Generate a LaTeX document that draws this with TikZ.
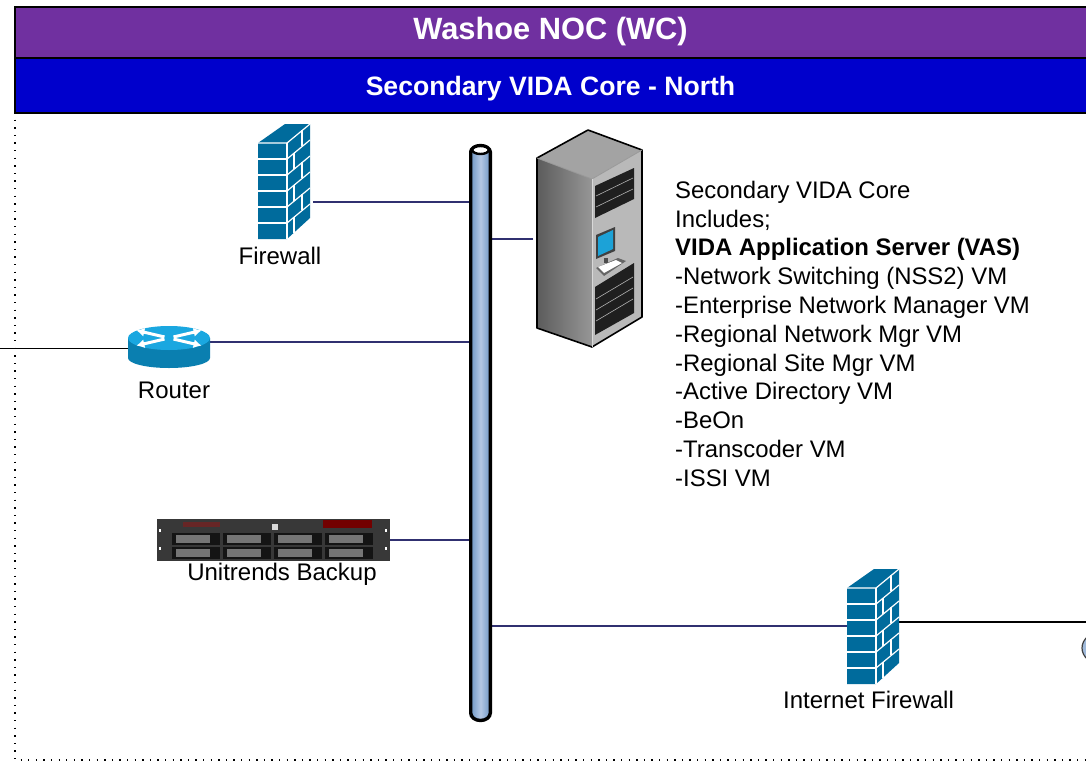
\documentclass[tikz,border=0pt]{standalone}
\usepackage{fontspec}
\usetikzlibrary{arrows.meta}
\setmainfont{Liberation Sans}
\definecolor{hdrpurple}{HTML}{7030A0}
\definecolor{hdrblue}{HTML}{0000CC}
\definecolor{linkblue}{HTML}{303070}
\definecolor{wallblue}{HTML}{006B9C}
\definecolor{routertop}{HTML}{1AA7E0}
\definecolor{routerside}{HTML}{0A7FB0}
\definecolor{barblue}{HTML}{B4C8E4}
\definecolor{bardark}{HTML}{6F96C4}
\tikzset{
  header/.style={draw=black,line width=2pt,minimum height=#1,inner sep=0pt,text=white,font=\bfseries},
  link/.style={draw=linkblue,line width=1.3pt},
  extlink/.style={draw=black,line width=1pt},
  label/.style={inner sep=0pt,font=\fontsize{24}{28}\selectfont},
  footprint/.style={inner sep=0pt,draw=none,fill=none},
  brick/.style={draw=white,line width=1.2pt},
  slotline/.style={draw=gray!60,line width=.6pt},
}
\newcommand{\brickwall}[2]{%
  \begin{scope}[shift={(#1,#2)}]
    \fill[wallblue] (0,19) -- (27,0) -- (52,0) -- (52,94) -- (29,115) -- (0,115) -- cycle;
    \draw[brick] (0,19) -- (29,19) -- (52,0);
    \draw[brick] (29,19) -- (29,115);
    \foreach \yy in {35,51,67,83,99}{\draw[brick] (0,\yy) -- (29,\yy);}
    \foreach \yy in {35,51,67,83,99}{\draw[brick] (29,\yy) -- (52,\yy-19);}
    \draw[brick] (44,6) -- (44,22);
    \draw[brick] (36,29) -- (36,45);
    \draw[brick] (44,38) -- (44,54);
    \draw[brick] (36,61) -- (36,77);
    \draw[brick] (44,70) -- (44,86);
    \draw[brick] (36,93) -- (36,109);
  \end{scope}}
\begin{document}
\begin{tikzpicture}[x=1pt,y=-1pt]
\useasboundingbox (0,0) rectangle (1086,763);
\fill[white] (0,0) rectangle (1086,763);
\begin{scope}
\clip (0,0) rectangle (1086,763);

% dotted frame
\draw[black,line width=1.2pt,dash pattern=on 1.3pt off 6.3pt] (15,112) -- (15,760) -- (1086,760);

% headers
\node[header=51pt,fill=hdrpurple,minimum width=1078pt,anchor=north west] (noc) at (14,6) {};
\node[font=\bfseries\fontsize{30.8}{34}\selectfont,text=white,inner sep=0pt] (noctitle) at (550.5,32) {Washoe NOC (WC)};
\node[header=55pt,fill=hdrblue,minimum width=1078pt,anchor=north west] (core) at (14,57) {};
\node[font=\bfseries\fontsize{26.6}{30}\selectfont,text=white,inner sep=0pt] (coretitle) at (550.5,89) {Secondary VIDA Core - North};

% footprints and ports
\node[footprint,minimum width=23pt,minimum height=578pt,anchor=north west] (bar) at (469,144) {};
\node[footprint,minimum width=52pt,minimum height=115pt,anchor=north west] (fw) at (258,124) {};
\node[footprint,minimum width=106pt,minimum height=217pt,anchor=north west] (srv) at (536,130) {};
\node[footprint,minimum width=82pt,minimum height=42pt,anchor=north west] (rtr) at (128,326) {};
\node[footprint,minimum width=233pt,minimum height=42pt,anchor=north west] (bak) at (157,519) {};
\node[footprint,minimum width=52pt,minimum height=115pt,anchor=north west] (ifw) at (847,569) {};
\coordinate (fwport) at (313,202);
\coordinate (srvport) at (533,239);
\coordinate (rtrport) at (210,342);
\coordinate (rtrleft) at (128,348);
\coordinate (leftedge) at (0,348);
\coordinate (bakport) at (390,540);
\coordinate (ifwport) at (847,626);
\coordinate (ifwright) at (890,622);
\coordinate (rightedge) at (1086,622);

% connectors
\draw[link] (fwport) -- (fwport -| bar.west);
\draw[link] (srvport) -- (srvport -| bar.east);
\draw[link] (rtrport) -- (rtrport -| bar.west);
\draw[link] (bakport) -- (bakport -| bar.west);
\draw[link] (ifwport) -- (ifwport -| bar.east);
\draw[extlink] (leftedge) -- (rtrleft);
\draw[black,line width=1.5pt] (ifwright) -- (rightedge);

% backbone bar
\draw[black,line width=3.4pt,left color=bardark,right color=bardark,middle color=barblue]
  (470.7,152) arc[start angle=180,end angle=360,x radius=9.8,y radius=6.5] -- (490.3,713) arc[start angle=0,end angle=180,x radius=9.8,y radius=7.5] -- cycle;
\draw[black,line width=2.4pt,fill=white] (480.5,150) ellipse[x radius=8.2,y radius=4];

% firewalls
\brickwall{258}{124}
\brickwall{847}{569}

% server rack
\fill[left color=gray!72!black,right color=gray!82] (537,158) -- (592,179) -- (592,347) -- (537,328) -- cycle;
\fill[gray!72] (537,158) -- (588,130) -- (642,150) -- (592,179) -- cycle;
\fill[gray!55] (592,179) -- (642,150) -- (642,317) -- (592,347) -- cycle;
\fill[black!88] (595,186) -- (634,168) -- (634,199) -- (595,218) -- cycle;
\fill[black!88] (595,287) -- (634,263) -- (634,313) -- (595,335) -- cycle;
\foreach \dy in {10,21}{\draw[slotline] (596,186+\dy) -- (633,168+\dy);}
\foreach \dy in {10,21,32}{\draw[slotline] (596,289+\dy) -- (633,267+\dy);}
\fill[black!75] (596,235) -- (615,227) -- (615,251) -- (596,259) -- cycle;
\fill[cyan!75!teal] (598,237) -- (613,230) -- (613,249) -- (598,256) -- cycle;
\fill[black!70] (604,258) rectangle (608,263);
\fill[black!60] (596,268) -- (618,258) -- (626,261) -- (604,276) -- cycle;
\fill[white] (598,267) -- (616,260) -- (622,263) -- (604,273) -- cycle;
\draw[black,line width=1.6pt,line join=round] (537,158) -- (588,130) -- (642,150) -- (642,317) -- (592,347) -- (537,328) -- cycle;
\draw[gray!80,line width=.8pt] (537,158) -- (592,179) -- (642,150);
\draw[gray!30,line width=1pt] (592,179) -- (592,347);

% router
\fill[routerside] (128,338) -- (128,358) arc[start angle=180,end angle=0,x radius=41,y radius=10] -- (210,338) -- cycle;
\fill[routertop] (169,338) ellipse[x radius=41,y radius=12];
\foreach \ang in {25,155}{
  \begin{scope}[shift={(169,338)},yscale=.5]
    \draw[white,line width=3pt,-{Latex[length=8pt,width=9pt]}] (\ang:5) -- (\ang:36);
  \end{scope}}
\foreach \ang in {205,335}{
  \begin{scope}[shift={(169,338)},yscale=.5]
    \draw[white,line width=3pt,{Latex[length=8pt,width=9pt]}-] (\ang:36) -- (\ang:5);
  \end{scope}}

% backup unit
\fill[black!78] (157,519) rectangle (390,561);
\fill[red!45!black] (323,520) rectangle (372,528);
\fill[red!30!black!85] (183,522) rectangle (220,527);
\fill[white!85!black] (272,524) rectangle (278,530);
\foreach \xx in {172,223,274,325}{
  \foreach \yy in {533,547}{
    \fill[black!92] (\xx,\yy) rectangle (\xx+48,\yy+12);
    \fill[gray!45!black!70] (\xx+4,\yy+2) rectangle (\xx+38,\yy+10);
  }}
\foreach \yy in {529,547}{\fill[white] (159,\yy) rectangle (161,\yy+3); \fill[white] (385,\yy) rectangle (387,\yy+3);}

% cloud edge at right
\draw[black!75,line width=1.2pt,fill=barblue!70!bardark] (1101,648) ellipse[x radius=19,y radius=16];

% labels
\node[label] (fwlabel) at (280,256) {Firewall};
\node[label] (rtrlabel) at (174,390) {Router};
\node[label] (baklabel) at (282,574.5) {Unitrends Backup};
\node[label] (ifwlabel) at (868.5,700) {Internet Firewall};
\node[inner sep=0pt,anchor=north west,align=left,font=\fontsize{23.9}{28.8}\selectfont] (srvtext) at (675,180.7) {Secondary VIDA Core\\Includes;\\\textbf{VIDA Application Server (VAS)}\\-Network Switching (NSS2) VM\\-Enterprise Network Manager VM\\-Regional Network Mgr VM\\-Regional Site Mgr VM\\-Active Directory VM\\-BeOn\\-Transcoder VM\\-ISSI VM};
\end{scope}
\end{tikzpicture}
\end{document}
